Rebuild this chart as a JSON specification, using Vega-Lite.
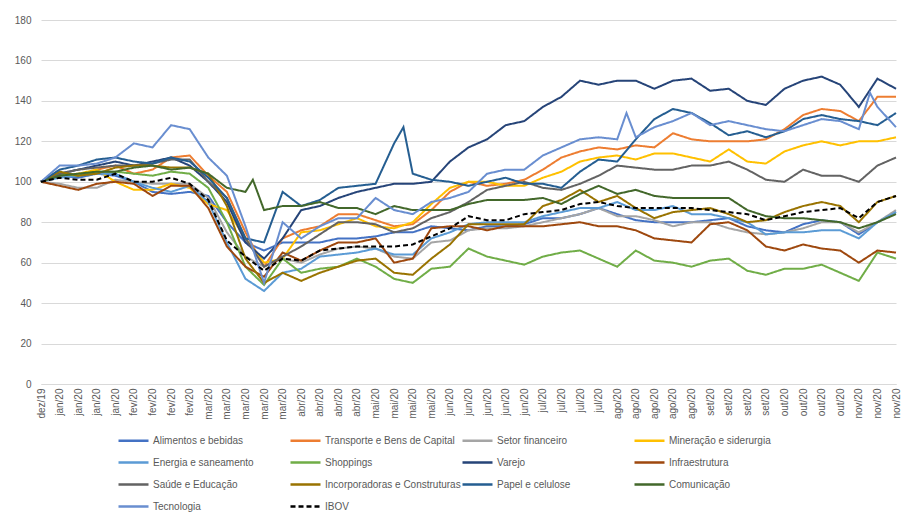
{
"$schema":"https://vega.github.io/schema/vega-lite/v6.json",
"width":855,"height":364,
"autosize":{"type":"none"},
"padding":{"left":41,"top":20,"right":23,"bottom":133},
"background":"white",
"config":{"view":{"stroke":null},"font":"Liberation Sans"},
"data":{"values":[
{"s":"Alimentos e bebidas","i":0,"v":100},{"s":"Alimentos e bebidas","i":1,"v":103},{"s":"Alimentos e bebidas","i":2,"v":102},{"s":"Alimentos e bebidas","i":3,"v":104},{"s":"Alimentos e bebidas","i":4,"v":103},{"s":"Alimentos e bebidas","i":5,"v":100},{"s":"Alimentos e bebidas","i":6,"v":95},{"s":"Alimentos e bebidas","i":7,"v":94},{"s":"Alimentos e bebidas","i":8,"v":95},{"s":"Alimentos e bebidas","i":9,"v":93},{"s":"Alimentos e bebidas","i":10,"v":80},{"s":"Alimentos e bebidas","i":11,"v":70},{"s":"Alimentos e bebidas","i":12,"v":66},{"s":"Alimentos e bebidas","i":13,"v":70},{"s":"Alimentos e bebidas","i":14,"v":70},{"s":"Alimentos e bebidas","i":15,"v":70},{"s":"Alimentos e bebidas","i":16,"v":72},{"s":"Alimentos e bebidas","i":17,"v":72},{"s":"Alimentos e bebidas","i":18,"v":73},{"s":"Alimentos e bebidas","i":19,"v":75},{"s":"Alimentos e bebidas","i":20,"v":75},{"s":"Alimentos e bebidas","i":21,"v":78},{"s":"Alimentos e bebidas","i":22,"v":77},{"s":"Alimentos e bebidas","i":23,"v":76},{"s":"Alimentos e bebidas","i":24,"v":78},{"s":"Alimentos e bebidas","i":25,"v":78},{"s":"Alimentos e bebidas","i":26,"v":79},{"s":"Alimentos e bebidas","i":27,"v":82},{"s":"Alimentos e bebidas","i":28,"v":82},{"s":"Alimentos e bebidas","i":29,"v":84},{"s":"Alimentos e bebidas","i":30,"v":87},{"s":"Alimentos e bebidas","i":31,"v":84},{"s":"Alimentos e bebidas","i":32,"v":81},{"s":"Alimentos e bebidas","i":33,"v":80},{"s":"Alimentos e bebidas","i":34,"v":80},{"s":"Alimentos e bebidas","i":35,"v":80},{"s":"Alimentos e bebidas","i":36,"v":81},{"s":"Alimentos e bebidas","i":37,"v":82},{"s":"Alimentos e bebidas","i":38,"v":78},{"s":"Alimentos e bebidas","i":39,"v":76},{"s":"Alimentos e bebidas","i":40,"v":75},{"s":"Alimentos e bebidas","i":41,"v":79},{"s":"Alimentos e bebidas","i":42,"v":81},{"s":"Alimentos e bebidas","i":43,"v":80},{"s":"Alimentos e bebidas","i":44,"v":74},{"s":"Alimentos e bebidas","i":45,"v":80},{"s":"Alimentos e bebidas","i":46,"v":85},
{"s":"Transporte e Bens de Capital","i":0,"v":100},{"s":"Transporte e Bens de Capital","i":1,"v":104},{"s":"Transporte e Bens de Capital","i":2,"v":103},{"s":"Transporte e Bens de Capital","i":3,"v":106},{"s":"Transporte e Bens de Capital","i":4,"v":108},{"s":"Transporte e Bens de Capital","i":5,"v":104},{"s":"Transporte e Bens de Capital","i":6,"v":106},{"s":"Transporte e Bens de Capital","i":7,"v":112},{"s":"Transporte e Bens de Capital","i":8,"v":113},{"s":"Transporte e Bens de Capital","i":9,"v":103},{"s":"Transporte e Bens de Capital","i":10,"v":95},{"s":"Transporte e Bens de Capital","i":11,"v":75},{"s":"Transporte e Bens de Capital","i":12,"v":58},{"s":"Transporte e Bens de Capital","i":13,"v":72},{"s":"Transporte e Bens de Capital","i":14,"v":76},{"s":"Transporte e Bens de Capital","i":15,"v":78},{"s":"Transporte e Bens de Capital","i":16,"v":84},{"s":"Transporte e Bens de Capital","i":17,"v":84},{"s":"Transporte e Bens de Capital","i":18,"v":81},{"s":"Transporte e Bens de Capital","i":19,"v":78},{"s":"Transporte e Bens de Capital","i":20,"v":79},{"s":"Transporte e Bens de Capital","i":21,"v":86},{"s":"Transporte e Bens de Capital","i":22,"v":95},{"s":"Transporte e Bens de Capital","i":23,"v":100},{"s":"Transporte e Bens de Capital","i":24,"v":98},{"s":"Transporte e Bens de Capital","i":25,"v":99},{"s":"Transporte e Bens de Capital","i":26,"v":101},{"s":"Transporte e Bens de Capital","i":27,"v":106},{"s":"Transporte e Bens de Capital","i":28,"v":112},{"s":"Transporte e Bens de Capital","i":29,"v":115},{"s":"Transporte e Bens de Capital","i":30,"v":117},{"s":"Transporte e Bens de Capital","i":31,"v":116},{"s":"Transporte e Bens de Capital","i":32,"v":118},{"s":"Transporte e Bens de Capital","i":33,"v":117},{"s":"Transporte e Bens de Capital","i":34,"v":124},{"s":"Transporte e Bens de Capital","i":35,"v":121},{"s":"Transporte e Bens de Capital","i":36,"v":120},{"s":"Transporte e Bens de Capital","i":37,"v":120},{"s":"Transporte e Bens de Capital","i":38,"v":120},{"s":"Transporte e Bens de Capital","i":39,"v":121},{"s":"Transporte e Bens de Capital","i":40,"v":126},{"s":"Transporte e Bens de Capital","i":41,"v":133},{"s":"Transporte e Bens de Capital","i":42,"v":136},{"s":"Transporte e Bens de Capital","i":43,"v":135},{"s":"Transporte e Bens de Capital","i":44,"v":130},{"s":"Transporte e Bens de Capital","i":45,"v":142},{"s":"Transporte e Bens de Capital","i":46,"v":142},
{"s":"Setor financeiro","i":0,"v":100},{"s":"Setor financeiro","i":1,"v":99},{"s":"Setor financeiro","i":2,"v":97},{"s":"Setor financeiro","i":3,"v":97},{"s":"Setor financeiro","i":4,"v":101},{"s":"Setor financeiro","i":5,"v":100},{"s":"Setor financeiro","i":6,"v":99},{"s":"Setor financeiro","i":7,"v":99},{"s":"Setor financeiro","i":8,"v":99},{"s":"Setor financeiro","i":9,"v":92},{"s":"Setor financeiro","i":10,"v":75},{"s":"Setor financeiro","i":11,"v":63},{"s":"Setor financeiro","i":12,"v":58},{"s":"Setor financeiro","i":13,"v":62},{"s":"Setor financeiro","i":14,"v":60},{"s":"Setor financeiro","i":15,"v":64},{"s":"Setor financeiro","i":16,"v":67},{"s":"Setor financeiro","i":17,"v":68},{"s":"Setor financeiro","i":18,"v":67},{"s":"Setor financeiro","i":19,"v":63},{"s":"Setor financeiro","i":20,"v":62},{"s":"Setor financeiro","i":21,"v":70},{"s":"Setor financeiro","i":22,"v":71},{"s":"Setor financeiro","i":23,"v":76},{"s":"Setor financeiro","i":24,"v":77},{"s":"Setor financeiro","i":25,"v":77},{"s":"Setor financeiro","i":26,"v":78},{"s":"Setor financeiro","i":27,"v":80},{"s":"Setor financeiro","i":28,"v":82},{"s":"Setor financeiro","i":29,"v":84},{"s":"Setor financeiro","i":30,"v":87},{"s":"Setor financeiro","i":31,"v":83},{"s":"Setor financeiro","i":32,"v":83},{"s":"Setor financeiro","i":33,"v":81},{"s":"Setor financeiro","i":34,"v":78},{"s":"Setor financeiro","i":35,"v":80},{"s":"Setor financeiro","i":36,"v":80},{"s":"Setor financeiro","i":37,"v":77},{"s":"Setor financeiro","i":38,"v":75},{"s":"Setor financeiro","i":39,"v":74},{"s":"Setor financeiro","i":40,"v":75},{"s":"Setor financeiro","i":41,"v":77},{"s":"Setor financeiro","i":42,"v":80},{"s":"Setor financeiro","i":43,"v":80},{"s":"Setor financeiro","i":44,"v":75},{"s":"Setor financeiro","i":45,"v":80},{"s":"Setor financeiro","i":46,"v":86},
{"s":"Mineração e siderurgia","i":0,"v":100},{"s":"Mineração e siderurgia","i":1,"v":103},{"s":"Mineração e siderurgia","i":2,"v":104},{"s":"Mineração e siderurgia","i":3,"v":106},{"s":"Mineração e siderurgia","i":4,"v":100},{"s":"Mineração e siderurgia","i":5,"v":96},{"s":"Mineração e siderurgia","i":6,"v":96},{"s":"Mineração e siderurgia","i":7,"v":99},{"s":"Mineração e siderurgia","i":8,"v":97},{"s":"Mineração e siderurgia","i":9,"v":89},{"s":"Mineração e siderurgia","i":10,"v":86},{"s":"Mineração e siderurgia","i":11,"v":72},{"s":"Mineração e siderurgia","i":12,"v":60},{"s":"Mineração e siderurgia","i":13,"v":62},{"s":"Mineração e siderurgia","i":14,"v":75},{"s":"Mineração e siderurgia","i":15,"v":76},{"s":"Mineração e siderurgia","i":16,"v":79},{"s":"Mineração e siderurgia","i":17,"v":82},{"s":"Mineração e siderurgia","i":18,"v":78},{"s":"Mineração e siderurgia","i":19,"v":77},{"s":"Mineração e siderurgia","i":20,"v":80},{"s":"Mineração e siderurgia","i":21,"v":89},{"s":"Mineração e siderurgia","i":22,"v":97},{"s":"Mineração e siderurgia","i":23,"v":100},{"s":"Mineração e siderurgia","i":24,"v":100},{"s":"Mineração e siderurgia","i":25,"v":98},{"s":"Mineração e siderurgia","i":26,"v":98},{"s":"Mineração e siderurgia","i":27,"v":102},{"s":"Mineração e siderurgia","i":28,"v":105},{"s":"Mineração e siderurgia","i":29,"v":110},{"s":"Mineração e siderurgia","i":30,"v":112},{"s":"Mineração e siderurgia","i":31,"v":113},{"s":"Mineração e siderurgia","i":32,"v":111},{"s":"Mineração e siderurgia","i":33,"v":114},{"s":"Mineração e siderurgia","i":34,"v":114},{"s":"Mineração e siderurgia","i":35,"v":112},{"s":"Mineração e siderurgia","i":36,"v":110},{"s":"Mineração e siderurgia","i":37,"v":116},{"s":"Mineração e siderurgia","i":38,"v":110},{"s":"Mineração e siderurgia","i":39,"v":109},{"s":"Mineração e siderurgia","i":40,"v":115},{"s":"Mineração e siderurgia","i":41,"v":118},{"s":"Mineração e siderurgia","i":42,"v":120},{"s":"Mineração e siderurgia","i":43,"v":118},{"s":"Mineração e siderurgia","i":44,"v":120},{"s":"Mineração e siderurgia","i":45,"v":120},{"s":"Mineração e siderurgia","i":46,"v":122},
{"s":"Energia e saneamento","i":0,"v":100},{"s":"Energia e saneamento","i":1,"v":102},{"s":"Energia e saneamento","i":2,"v":103},{"s":"Energia e saneamento","i":3,"v":104},{"s":"Energia e saneamento","i":4,"v":104},{"s":"Energia e saneamento","i":5,"v":100},{"s":"Energia e saneamento","i":6,"v":97},{"s":"Energia e saneamento","i":7,"v":95},{"s":"Energia e saneamento","i":8,"v":98},{"s":"Energia e saneamento","i":9,"v":90},{"s":"Energia e saneamento","i":10,"v":70},{"s":"Energia e saneamento","i":11,"v":52},{"s":"Energia e saneamento","i":12,"v":46},{"s":"Energia e saneamento","i":13,"v":55},{"s":"Energia e saneamento","i":14,"v":57},{"s":"Energia e saneamento","i":15,"v":63},{"s":"Energia e saneamento","i":16,"v":64},{"s":"Energia e saneamento","i":17,"v":65},{"s":"Energia e saneamento","i":18,"v":67},{"s":"Energia e saneamento","i":19,"v":64},{"s":"Energia e saneamento","i":20,"v":64},{"s":"Energia e saneamento","i":21,"v":72},{"s":"Energia e saneamento","i":22,"v":75},{"s":"Energia e saneamento","i":23,"v":79},{"s":"Energia e saneamento","i":24,"v":80},{"s":"Energia e saneamento","i":25,"v":80},{"s":"Energia e saneamento","i":26,"v":80},{"s":"Energia e saneamento","i":27,"v":83},{"s":"Energia e saneamento","i":28,"v":85},{"s":"Energia e saneamento","i":29,"v":87},{"s":"Energia e saneamento","i":30,"v":87},{"s":"Energia e saneamento","i":31,"v":90},{"s":"Energia e saneamento","i":32,"v":86},{"s":"Energia e saneamento","i":33,"v":86},{"s":"Energia e saneamento","i":34,"v":88},{"s":"Energia e saneamento","i":35,"v":84},{"s":"Energia e saneamento","i":36,"v":84},{"s":"Energia e saneamento","i":37,"v":82},{"s":"Energia e saneamento","i":38,"v":80},{"s":"Energia e saneamento","i":39,"v":74},{"s":"Energia e saneamento","i":40,"v":75},{"s":"Energia e saneamento","i":41,"v":75},{"s":"Energia e saneamento","i":42,"v":76},{"s":"Energia e saneamento","i":43,"v":76},{"s":"Energia e saneamento","i":44,"v":72},{"s":"Energia e saneamento","i":45,"v":80},{"s":"Energia e saneamento","i":46,"v":85},
{"s":"Shoppings","i":0,"v":100},{"s":"Shoppings","i":1,"v":104},{"s":"Shoppings","i":2,"v":103},{"s":"Shoppings","i":3,"v":105},{"s":"Shoppings","i":4,"v":105},{"s":"Shoppings","i":5,"v":104},{"s":"Shoppings","i":6,"v":103},{"s":"Shoppings","i":7,"v":105},{"s":"Shoppings","i":8,"v":104},{"s":"Shoppings","i":9,"v":97},{"s":"Shoppings","i":10,"v":80},{"s":"Shoppings","i":11,"v":58},{"s":"Shoppings","i":12,"v":49},{"s":"Shoppings","i":13,"v":62},{"s":"Shoppings","i":14,"v":55},{"s":"Shoppings","i":15,"v":57},{"s":"Shoppings","i":16,"v":58},{"s":"Shoppings","i":17,"v":62},{"s":"Shoppings","i":18,"v":58},{"s":"Shoppings","i":19,"v":52},{"s":"Shoppings","i":20,"v":50},{"s":"Shoppings","i":21,"v":57},{"s":"Shoppings","i":22,"v":58},{"s":"Shoppings","i":23,"v":67},{"s":"Shoppings","i":24,"v":63},{"s":"Shoppings","i":25,"v":61},{"s":"Shoppings","i":26,"v":59},{"s":"Shoppings","i":27,"v":63},{"s":"Shoppings","i":28,"v":65},{"s":"Shoppings","i":29,"v":66},{"s":"Shoppings","i":30,"v":62},{"s":"Shoppings","i":31,"v":58},{"s":"Shoppings","i":32,"v":66},{"s":"Shoppings","i":33,"v":61},{"s":"Shoppings","i":34,"v":60},{"s":"Shoppings","i":35,"v":58},{"s":"Shoppings","i":36,"v":61},{"s":"Shoppings","i":37,"v":62},{"s":"Shoppings","i":38,"v":56},{"s":"Shoppings","i":39,"v":54},{"s":"Shoppings","i":40,"v":57},{"s":"Shoppings","i":41,"v":57},{"s":"Shoppings","i":42,"v":59},{"s":"Shoppings","i":43,"v":55},{"s":"Shoppings","i":44,"v":51},{"s":"Shoppings","i":45,"v":65},{"s":"Shoppings","i":46,"v":62},
{"s":"Varejo","i":0,"v":100},{"s":"Varejo","i":1,"v":104},{"s":"Varejo","i":2,"v":106},{"s":"Varejo","i":3,"v":108},{"s":"Varejo","i":4,"v":110},{"s":"Varejo","i":5,"v":108},{"s":"Varejo","i":6,"v":110},{"s":"Varejo","i":7,"v":112},{"s":"Varejo","i":8,"v":108},{"s":"Varejo","i":9,"v":100},{"s":"Varejo","i":10,"v":90},{"s":"Varejo","i":11,"v":70},{"s":"Varejo","i":12,"v":62},{"s":"Varejo","i":13,"v":72},{"s":"Varejo","i":14,"v":86},{"s":"Varejo","i":15,"v":88},{"s":"Varejo","i":16,"v":92},{"s":"Varejo","i":17,"v":95},{"s":"Varejo","i":18,"v":97},{"s":"Varejo","i":19,"v":99},{"s":"Varejo","i":20,"v":99},{"s":"Varejo","i":21,"v":100},{"s":"Varejo","i":22,"v":110},{"s":"Varejo","i":23,"v":117},{"s":"Varejo","i":24,"v":121},{"s":"Varejo","i":25,"v":128},{"s":"Varejo","i":26,"v":130},{"s":"Varejo","i":27,"v":137},{"s":"Varejo","i":28,"v":142},{"s":"Varejo","i":29,"v":150},{"s":"Varejo","i":30,"v":148},{"s":"Varejo","i":31,"v":150},{"s":"Varejo","i":32,"v":150},{"s":"Varejo","i":33,"v":146},{"s":"Varejo","i":34,"v":150},{"s":"Varejo","i":35,"v":151},{"s":"Varejo","i":36,"v":145},{"s":"Varejo","i":37,"v":146},{"s":"Varejo","i":38,"v":140},{"s":"Varejo","i":39,"v":138},{"s":"Varejo","i":40,"v":146},{"s":"Varejo","i":41,"v":150},{"s":"Varejo","i":42,"v":152},{"s":"Varejo","i":43,"v":148},{"s":"Varejo","i":44,"v":137},{"s":"Varejo","i":45,"v":151},{"s":"Varejo","i":46,"v":146},
{"s":"Infraestrutura","i":0,"v":100},{"s":"Infraestrutura","i":1,"v":98},{"s":"Infraestrutura","i":2,"v":96},{"s":"Infraestrutura","i":3,"v":99},{"s":"Infraestrutura","i":4,"v":100},{"s":"Infraestrutura","i":5,"v":99},{"s":"Infraestrutura","i":6,"v":93},{"s":"Infraestrutura","i":7,"v":98},{"s":"Infraestrutura","i":8,"v":98},{"s":"Infraestrutura","i":9,"v":87},{"s":"Infraestrutura","i":10,"v":68},{"s":"Infraestrutura","i":11,"v":58},{"s":"Infraestrutura","i":12,"v":53},{"s":"Infraestrutura","i":13,"v":65},{"s":"Infraestrutura","i":14,"v":61},{"s":"Infraestrutura","i":15,"v":66},{"s":"Infraestrutura","i":16,"v":70},{"s":"Infraestrutura","i":17,"v":70},{"s":"Infraestrutura","i":18,"v":72},{"s":"Infraestrutura","i":19,"v":60},{"s":"Infraestrutura","i":20,"v":62},{"s":"Infraestrutura","i":21,"v":77},{"s":"Infraestrutura","i":22,"v":78},{"s":"Infraestrutura","i":23,"v":78},{"s":"Infraestrutura","i":24,"v":76},{"s":"Infraestrutura","i":25,"v":78},{"s":"Infraestrutura","i":26,"v":78},{"s":"Infraestrutura","i":27,"v":78},{"s":"Infraestrutura","i":28,"v":79},{"s":"Infraestrutura","i":29,"v":80},{"s":"Infraestrutura","i":30,"v":78},{"s":"Infraestrutura","i":31,"v":78},{"s":"Infraestrutura","i":32,"v":76},{"s":"Infraestrutura","i":33,"v":72},{"s":"Infraestrutura","i":34,"v":71},{"s":"Infraestrutura","i":35,"v":70},{"s":"Infraestrutura","i":36,"v":79},{"s":"Infraestrutura","i":37,"v":80},{"s":"Infraestrutura","i":38,"v":76},{"s":"Infraestrutura","i":39,"v":68},{"s":"Infraestrutura","i":40,"v":66},{"s":"Infraestrutura","i":41,"v":69},{"s":"Infraestrutura","i":42,"v":67},{"s":"Infraestrutura","i":43,"v":66},{"s":"Infraestrutura","i":44,"v":60},{"s":"Infraestrutura","i":45,"v":66},{"s":"Infraestrutura","i":46,"v":65},
{"s":"Saúde e Educação","i":0,"v":100},{"s":"Saúde e Educação","i":1,"v":104},{"s":"Saúde e Educação","i":2,"v":106},{"s":"Saúde e Educação","i":3,"v":107},{"s":"Saúde e Educação","i":4,"v":108},{"s":"Saúde e Educação","i":5,"v":108},{"s":"Saúde e Educação","i":6,"v":109},{"s":"Saúde e Educação","i":7,"v":111},{"s":"Saúde e Educação","i":8,"v":111},{"s":"Saúde e Educação","i":9,"v":100},{"s":"Saúde e Educação","i":10,"v":92},{"s":"Saúde e Educação","i":11,"v":72},{"s":"Saúde e Educação","i":12,"v":58},{"s":"Saúde e Educação","i":13,"v":63},{"s":"Saúde e Educação","i":14,"v":68},{"s":"Saúde e Educação","i":15,"v":74},{"s":"Saúde e Educação","i":16,"v":80},{"s":"Saúde e Educação","i":17,"v":80},{"s":"Saúde e Educação","i":18,"v":79},{"s":"Saúde e Educação","i":19,"v":75},{"s":"Saúde e Educação","i":20,"v":77},{"s":"Saúde e Educação","i":21,"v":82},{"s":"Saúde e Educação","i":22,"v":85},{"s":"Saúde e Educação","i":23,"v":90},{"s":"Saúde e Educação","i":24,"v":96},{"s":"Saúde e Educação","i":25,"v":98},{"s":"Saúde e Educação","i":26,"v":100},{"s":"Saúde e Educação","i":27,"v":97},{"s":"Saúde e Educação","i":28,"v":96},{"s":"Saúde e Educação","i":29,"v":99},{"s":"Saúde e Educação","i":30,"v":103},{"s":"Saúde e Educação","i":31,"v":108},{"s":"Saúde e Educação","i":32,"v":107},{"s":"Saúde e Educação","i":33,"v":106},{"s":"Saúde e Educação","i":34,"v":106},{"s":"Saúde e Educação","i":35,"v":108},{"s":"Saúde e Educação","i":36,"v":108},{"s":"Saúde e Educação","i":37,"v":110},{"s":"Saúde e Educação","i":38,"v":106},{"s":"Saúde e Educação","i":39,"v":101},{"s":"Saúde e Educação","i":40,"v":100},{"s":"Saúde e Educação","i":41,"v":106},{"s":"Saúde e Educação","i":42,"v":103},{"s":"Saúde e Educação","i":43,"v":103},{"s":"Saúde e Educação","i":44,"v":100},{"s":"Saúde e Educação","i":45,"v":108},{"s":"Saúde e Educação","i":46,"v":112},
{"s":"Incorporadoras e Construturas","i":0,"v":100},{"s":"Incorporadoras e Construturas","i":1,"v":105},{"s":"Incorporadoras e Construturas","i":2,"v":103},{"s":"Incorporadoras e Construturas","i":3,"v":104},{"s":"Incorporadoras e Construturas","i":4,"v":107},{"s":"Incorporadoras e Construturas","i":5,"v":108},{"s":"Incorporadoras e Construturas","i":6,"v":108},{"s":"Incorporadoras e Construturas","i":7,"v":107},{"s":"Incorporadoras e Construturas","i":8,"v":107},{"s":"Incorporadoras e Construturas","i":9,"v":104},{"s":"Incorporadoras e Construturas","i":10,"v":88},{"s":"Incorporadoras e Construturas","i":11,"v":62},{"s":"Incorporadoras e Construturas","i":12,"v":50},{"s":"Incorporadoras e Construturas","i":13,"v":55},{"s":"Incorporadoras e Construturas","i":14,"v":51},{"s":"Incorporadoras e Construturas","i":15,"v":55},{"s":"Incorporadoras e Construturas","i":16,"v":58},{"s":"Incorporadoras e Construturas","i":17,"v":61},{"s":"Incorporadoras e Construturas","i":18,"v":62},{"s":"Incorporadoras e Construturas","i":19,"v":55},{"s":"Incorporadoras e Construturas","i":20,"v":54},{"s":"Incorporadoras e Construturas","i":21,"v":62},{"s":"Incorporadoras e Construturas","i":22,"v":69},{"s":"Incorporadoras e Construturas","i":23,"v":79},{"s":"Incorporadoras e Construturas","i":24,"v":79},{"s":"Incorporadoras e Construturas","i":25,"v":79},{"s":"Incorporadoras e Construturas","i":26,"v":79},{"s":"Incorporadoras e Construturas","i":27,"v":88},{"s":"Incorporadoras e Construturas","i":28,"v":91},{"s":"Incorporadoras e Construturas","i":29,"v":96},{"s":"Incorporadoras e Construturas","i":30,"v":90},{"s":"Incorporadoras e Construturas","i":31,"v":93},{"s":"Incorporadoras e Construturas","i":32,"v":87},{"s":"Incorporadoras e Construturas","i":33,"v":82},{"s":"Incorporadoras e Construturas","i":34,"v":85},{"s":"Incorporadoras e Construturas","i":35,"v":86},{"s":"Incorporadoras e Construturas","i":36,"v":87},{"s":"Incorporadoras e Construturas","i":37,"v":84},{"s":"Incorporadoras e Construturas","i":38,"v":80},{"s":"Incorporadoras e Construturas","i":39,"v":81},{"s":"Incorporadoras e Construturas","i":40,"v":85},{"s":"Incorporadoras e Construturas","i":41,"v":88},{"s":"Incorporadoras e Construturas","i":42,"v":90},{"s":"Incorporadoras e Construturas","i":43,"v":88},{"s":"Incorporadoras e Construturas","i":44,"v":80},{"s":"Incorporadoras e Construturas","i":45,"v":90},{"s":"Incorporadoras e Construturas","i":46,"v":93},
{"s":"Papel e celulose","i":0,"v":100},{"s":"Papel e celulose","i":1,"v":106},{"s":"Papel e celulose","i":2,"v":108},{"s":"Papel e celulose","i":3,"v":111},{"s":"Papel e celulose","i":4,"v":112},{"s":"Papel e celulose","i":5,"v":110},{"s":"Papel e celulose","i":6,"v":109},{"s":"Papel e celulose","i":7,"v":112},{"s":"Papel e celulose","i":8,"v":110},{"s":"Papel e celulose","i":9,"v":102},{"s":"Papel e celulose","i":10,"v":92},{"s":"Papel e celulose","i":11,"v":72},{"s":"Papel e celulose","i":12,"v":70},{"s":"Papel e celulose","i":13,"v":95},{"s":"Papel e celulose","i":14,"v":88},{"s":"Papel e celulose","i":15,"v":91},{"s":"Papel e celulose","i":16,"v":97},{"s":"Papel e celulose","i":17,"v":98},{"s":"Papel e celulose","i":18,"v":99},{"s":"Papel e celulose","i":19,"v":119},{"s":"Papel e celulose","i":19.5,"v":127},{"s":"Papel e celulose","i":20,"v":104},{"s":"Papel e celulose","i":21,"v":101},{"s":"Papel e celulose","i":22,"v":100},{"s":"Papel e celulose","i":23,"v":98},{"s":"Papel e celulose","i":24,"v":100},{"s":"Papel e celulose","i":25,"v":102},{"s":"Papel e celulose","i":26,"v":99},{"s":"Papel e celulose","i":27,"v":99},{"s":"Papel e celulose","i":28,"v":97},{"s":"Papel e celulose","i":29,"v":105},{"s":"Papel e celulose","i":30,"v":111},{"s":"Papel e celulose","i":31,"v":110},{"s":"Papel e celulose","i":32,"v":121},{"s":"Papel e celulose","i":33,"v":131},{"s":"Papel e celulose","i":34,"v":136},{"s":"Papel e celulose","i":35,"v":134},{"s":"Papel e celulose","i":36,"v":129},{"s":"Papel e celulose","i":37,"v":123},{"s":"Papel e celulose","i":38,"v":125},{"s":"Papel e celulose","i":39,"v":122},{"s":"Papel e celulose","i":40,"v":125},{"s":"Papel e celulose","i":41,"v":131},{"s":"Papel e celulose","i":42,"v":133},{"s":"Papel e celulose","i":43,"v":131},{"s":"Papel e celulose","i":44,"v":130},{"s":"Papel e celulose","i":45,"v":128},{"s":"Papel e celulose","i":46,"v":134},
{"s":"Comunicação","i":0,"v":100},{"s":"Comunicação","i":1,"v":103},{"s":"Comunicação","i":2,"v":104},{"s":"Comunicação","i":3,"v":105},{"s":"Comunicação","i":4,"v":105},{"s":"Comunicação","i":5,"v":107},{"s":"Comunicação","i":6,"v":108},{"s":"Comunicação","i":7,"v":106},{"s":"Comunicação","i":8,"v":107},{"s":"Comunicação","i":9,"v":104},{"s":"Comunicação","i":10,"v":97},{"s":"Comunicação","i":11,"v":95},{"s":"Comunicação","i":11.4,"v":101},{"s":"Comunicação","i":12,"v":86},{"s":"Comunicação","i":13,"v":88},{"s":"Comunicação","i":14,"v":88},{"s":"Comunicação","i":15,"v":90},{"s":"Comunicação","i":16,"v":87},{"s":"Comunicação","i":17,"v":87},{"s":"Comunicação","i":18,"v":84},{"s":"Comunicação","i":19,"v":88},{"s":"Comunicação","i":20,"v":86},{"s":"Comunicação","i":21,"v":86},{"s":"Comunicação","i":22,"v":86},{"s":"Comunicação","i":23,"v":89},{"s":"Comunicação","i":24,"v":91},{"s":"Comunicação","i":25,"v":91},{"s":"Comunicação","i":26,"v":91},{"s":"Comunicação","i":27,"v":92},{"s":"Comunicação","i":28,"v":89},{"s":"Comunicação","i":29,"v":94},{"s":"Comunicação","i":30,"v":98},{"s":"Comunicação","i":31,"v":94},{"s":"Comunicação","i":32,"v":96},{"s":"Comunicação","i":33,"v":93},{"s":"Comunicação","i":34,"v":92},{"s":"Comunicação","i":35,"v":92},{"s":"Comunicação","i":36,"v":92},{"s":"Comunicação","i":37,"v":92},{"s":"Comunicação","i":38,"v":86},{"s":"Comunicação","i":39,"v":83},{"s":"Comunicação","i":40,"v":82},{"s":"Comunicação","i":41,"v":82},{"s":"Comunicação","i":42,"v":81},{"s":"Comunicação","i":43,"v":80},{"s":"Comunicação","i":44,"v":77},{"s":"Comunicação","i":45,"v":80},{"s":"Comunicação","i":46,"v":84},
{"s":"Tecnologia","i":0,"v":100},{"s":"Tecnologia","i":1,"v":108},{"s":"Tecnologia","i":2,"v":108},{"s":"Tecnologia","i":3,"v":109},{"s":"Tecnologia","i":4,"v":112},{"s":"Tecnologia","i":5,"v":119},{"s":"Tecnologia","i":6,"v":117},{"s":"Tecnologia","i":7,"v":128},{"s":"Tecnologia","i":8,"v":126},{"s":"Tecnologia","i":9,"v":112},{"s":"Tecnologia","i":10,"v":103},{"s":"Tecnologia","i":11,"v":78},{"s":"Tecnologia","i":12,"v":50},{"s":"Tecnologia","i":13,"v":80},{"s":"Tecnologia","i":14,"v":72},{"s":"Tecnologia","i":15,"v":78},{"s":"Tecnologia","i":16,"v":82},{"s":"Tecnologia","i":17,"v":82},{"s":"Tecnologia","i":18,"v":92},{"s":"Tecnologia","i":19,"v":86},{"s":"Tecnologia","i":20,"v":84},{"s":"Tecnologia","i":21,"v":90},{"s":"Tecnologia","i":22,"v":92},{"s":"Tecnologia","i":23,"v":95},{"s":"Tecnologia","i":24,"v":104},{"s":"Tecnologia","i":25,"v":106},{"s":"Tecnologia","i":26,"v":106},{"s":"Tecnologia","i":27,"v":113},{"s":"Tecnologia","i":28,"v":117},{"s":"Tecnologia","i":29,"v":121},{"s":"Tecnologia","i":30,"v":122},{"s":"Tecnologia","i":31,"v":121},{"s":"Tecnologia","i":31.5,"v":134},{"s":"Tecnologia","i":32,"v":122},{"s":"Tecnologia","i":33,"v":127},{"s":"Tecnologia","i":34,"v":130},{"s":"Tecnologia","i":35,"v":134},{"s":"Tecnologia","i":36,"v":128},{"s":"Tecnologia","i":37,"v":130},{"s":"Tecnologia","i":38,"v":128},{"s":"Tecnologia","i":39,"v":126},{"s":"Tecnologia","i":40,"v":125},{"s":"Tecnologia","i":41,"v":128},{"s":"Tecnologia","i":42,"v":131},{"s":"Tecnologia","i":43,"v":130},{"s":"Tecnologia","i":44,"v":126},{"s":"Tecnologia","i":44.6,"v":144},{"s":"Tecnologia","i":45,"v":137},{"s":"Tecnologia","i":46,"v":127},
{"s":"IBOV","i":0,"v":100},{"s":"IBOV","i":1,"v":102},{"s":"IBOV","i":2,"v":101},{"s":"IBOV","i":3,"v":101},{"s":"IBOV","i":4,"v":104},{"s":"IBOV","i":5,"v":100},{"s":"IBOV","i":6,"v":100},{"s":"IBOV","i":7,"v":102},{"s":"IBOV","i":8,"v":99},{"s":"IBOV","i":9,"v":91},{"s":"IBOV","i":10,"v":71},{"s":"IBOV","i":11,"v":63},{"s":"IBOV","i":12,"v":56},{"s":"IBOV","i":13,"v":62},{"s":"IBOV","i":14,"v":61},{"s":"IBOV","i":15,"v":66},{"s":"IBOV","i":16,"v":67},{"s":"IBOV","i":17,"v":68},{"s":"IBOV","i":18,"v":68},{"s":"IBOV","i":19,"v":68},{"s":"IBOV","i":20,"v":69},{"s":"IBOV","i":21,"v":73},{"s":"IBOV","i":22,"v":77},{"s":"IBOV","i":23,"v":83},{"s":"IBOV","i":24,"v":81},{"s":"IBOV","i":25,"v":81},{"s":"IBOV","i":26,"v":84},{"s":"IBOV","i":27,"v":85},{"s":"IBOV","i":28,"v":86},{"s":"IBOV","i":29,"v":89},{"s":"IBOV","i":30,"v":90},{"s":"IBOV","i":31,"v":88},{"s":"IBOV","i":32,"v":87},{"s":"IBOV","i":33,"v":87},{"s":"IBOV","i":34,"v":87},{"s":"IBOV","i":35,"v":87},{"s":"IBOV","i":36,"v":86},{"s":"IBOV","i":37,"v":85},{"s":"IBOV","i":38,"v":84},{"s":"IBOV","i":39,"v":81},{"s":"IBOV","i":40,"v":83},{"s":"IBOV","i":41,"v":85},{"s":"IBOV","i":42,"v":86},{"s":"IBOV","i":43,"v":87},{"s":"IBOV","i":44,"v":82},{"s":"IBOV","i":45,"v":90},{"s":"IBOV","i":46,"v":93}
]},
"mark":{"type":"line","strokeWidth":2},
"encoding":{
"x":{"field":"i","type":"quantitative","scale":{"domain":[0,46],"nice":false,"zero":false},
"axis":{"title":null,"values":[0,1,2,3,4,5,6,7,8,9,10,11,12,13,14,15,16,17,18,19,20,21,22,23,24,25,26,27,28,29,30,31,32,33,34,35,36,37,38,39,40,41,42,43,44,45,46],
"labelExpr":"['dez/19','jan/20','jan/20','jan/20','jan/20','fev/20','fev/20','fev/20','fev/20','mar/20','mar/20','mar/20','mar/20','mar/20','abr/20','abr/20','abr/20','abr/20','mai/20','mai/20','mai/20','mai/20','jun/20','jun/20','jun/20','jun/20','jun/20','jul/20','jul/20','jul/20','jul/20','ago/20','ago/20','ago/20','ago/20','ago/20','set/20','set/20','set/20','set/20','out/20','out/20','out/20','out/20','nov/20','nov/20','nov/20'][datum.value]",
"labelAngle":-90,"labelFontSize":10,"labelColor":"#595959","labelOverlap":false,"labelPadding":4,"grid":false,"ticks":false,"domainColor":"#D9D9D9","domainWidth":1,"labelFont":"Liberation Sans"}},
"y":{"field":"v","type":"quantitative","scale":{"domain":[0,180],"nice":false},
"axis":{"title":null,"values":[0,20,40,60,80,100,120,140,160,180],"domain":false,"ticks":false,"gridColor":"#D9D9D9","gridWidth":1,"labelColor":"#595959","labelFontSize":10,"labelPadding":10,"labelFont":"Liberation Sans"}},
"color":{"field":"s","type":"nominal",
"scale":{"domain":["Alimentos e bebidas","Transporte e Bens de Capital","Setor financeiro","Mineração e siderurgia","Energia e saneamento","Shoppings","Varejo","Infraestrutura","Saúde e Educação","Incorporadoras e Construturas","Papel e celulose","Comunicação","Tecnologia","IBOV"],
"range":["#4472C4","#ED7D31","#A5A5A5","#FFC000","#5B9BD5","#70AD47","#264478","#9E480E","#636363","#997300","#255E91","#43682B","#698ED0","#000000"]},
"legend":{"title":null,"orient":"none","direction":"horizontal","legendX":76,"legendY":404,"columns":4,"gridAlign":"all","symbolType":"stroke","symbolSize":900,"symbolStrokeWidth":2.5,"labelFontSize":10,"labelColor":"#595959","labelFont":"Liberation Sans","columnPadding":-4,"rowPadding":0,"labelLimit":250,"padding":0,"labelOffset":3}},
"strokeDash":{"field":"s","type":"nominal",
"scale":{"domain":["Alimentos e bebidas","Transporte e Bens de Capital","Setor financeiro","Mineração e siderurgia","Energia e saneamento","Shoppings","Varejo","Infraestrutura","Saúde e Educação","Incorporadoras e Construturas","Papel e celulose","Comunicação","Tecnologia","IBOV"],
"range":[[1,0],[1,0],[1,0],[1,0],[1,0],[1,0],[1,0],[1,0],[1,0],[1,0],[1,0],[1,0],[1,0],[5,3]]},
"legend":{"title":null,"orient":"none","direction":"horizontal","legendX":76,"legendY":404,"columns":4,"gridAlign":"all","symbolType":"stroke","symbolSize":900,"symbolStrokeWidth":2.5,"labelFontSize":10,"labelColor":"#595959","labelFont":"Liberation Sans","columnPadding":-4,"rowPadding":0,"labelLimit":250,"padding":0,"labelOffset":3}}
}
}
